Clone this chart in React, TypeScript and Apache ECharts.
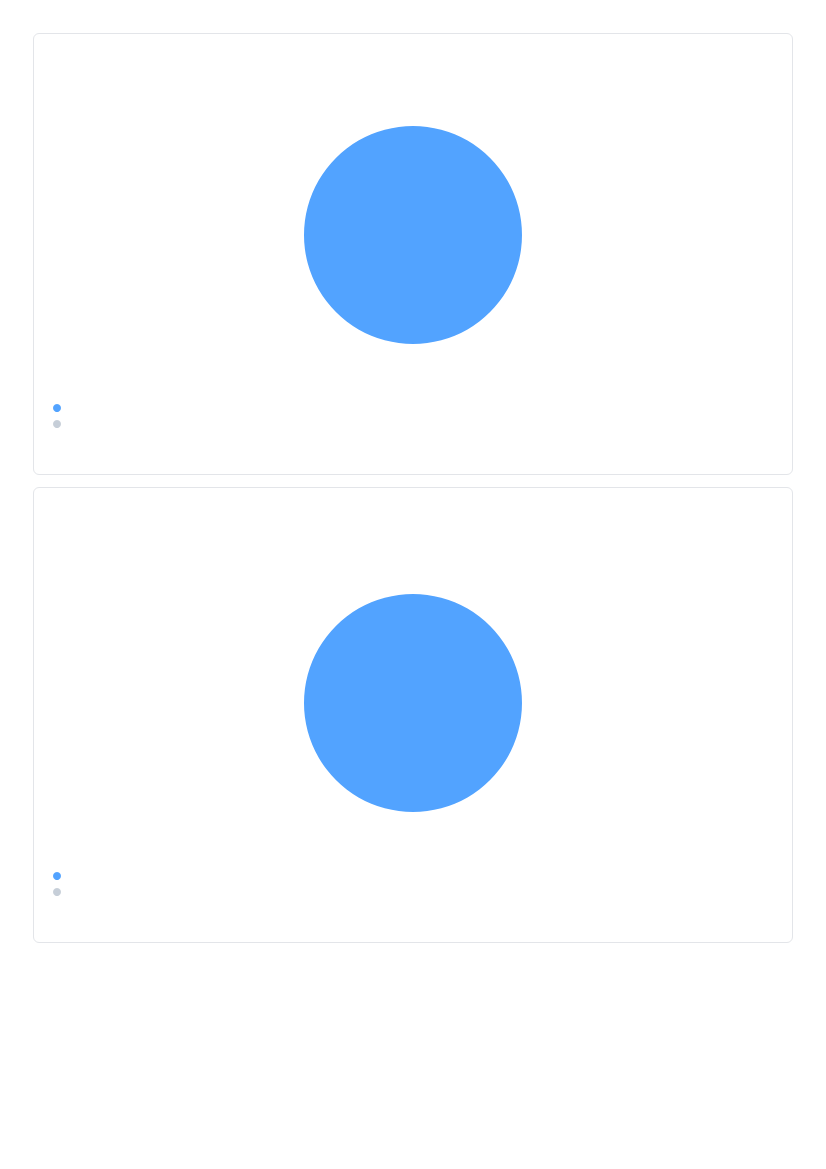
import React, { useEffect, useRef } from 'react';
import * as echarts from 'echarts';

// slice names / values per card (second slice is empty, so the pie reads as a full disc)
const sliceNames = ['Used', 'Free'];
const firstCardValues = [100, 0];
const secondCardValues = [100, 0];
const sliceColors = ['#52a3ff', '#c6ced8'];

type Props = {
  values: number[];
  height: number;
  offsetTop: number;
};

function PieCard({ values, height, offsetTop }: Props) {
  const chartRef = useRef<HTMLDivElement>(null);

  useEffect(() => {
    if (!chartRef.current) return;
    const chart = echarts.init(chartRef.current, undefined, { renderer: 'svg' });

    chart.setOption({
      animation: false,
      color: sliceColors,
      legend: {
        orient: 'vertical',
        left: 14,
        top: 365 + offsetTop,
        icon: 'circle',
        itemWidth: 8,
        itemHeight: 8,
        itemGap: 8,
        formatter: () => '',
        textStyle: { fontSize: 1 },
        selectedMode: false,
      },
      series: [
        {
          type: 'pie',
          center: ['50%', 201 + offsetTop],
          radius: 109,
          label: { show: false },
          labelLine: { show: false },
          emphasis: { disabled: true },
          data: sliceNames.map((name, i) => ({ name, value: values[i] })),
        },
      ],
    });

    return () => {
      chart.dispose();
    };
  }, [values, offsetTop]);

  return (
    <div
      style={{
        border: '1px solid #e3e5e9',
        borderRadius: 6,
        background: '#fff',
      }}
    >
      <div ref={chartRef} style={{ width: '100%', height }} />
    </div>
  );
}

export default function App() {
  return (
    <div
      style={{
        padding: '25px 25px',
        display: 'flex',
        flexDirection: 'column',
        gap: 12,
        fontFamily: 'Inter, sans-serif',
      }}
    >
      <PieCard values={firstCardValues} height={440} offsetTop={0} />
      <PieCard values={secondCardValues} height={454} offsetTop={14} />
    </div>
  );
}
